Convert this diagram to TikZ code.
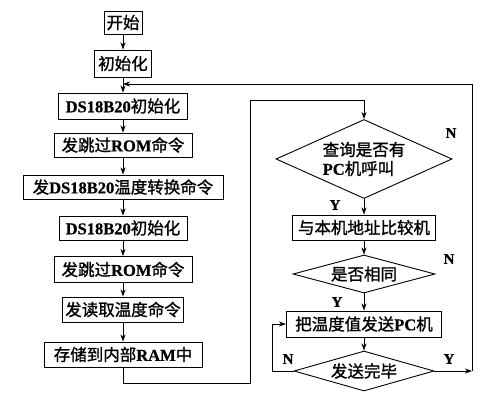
\documentclass[tikz,border=0pt]{standalone}
\usepackage{fontspec}
\setmainfont{Noto Sans CJK SC}[FakeBold=1.2]
\newfontfamily\latfont{Liberation Serif}[FakeBold=0.6]
\newcommand\ltn[1]{{\latfont\bfseries #1}}
\usetikzlibrary{shapes.geometric,arrows.meta}
\begin{document}
\begin{tikzpicture}[x=1pt,y=-1pt,
  box/.style={draw,line width=0.9pt,inner sep=0pt,font=\fontsize{16.5}{19}\selectfont},
  dia/.style={draw,diamond,line width=0.9pt,inner sep=0pt,font=\fontsize{16.5}{19}\selectfont},
  arr/.style={line width=0.8pt,-{Stealth[length=7pt,width=5pt,inset=2pt]}},
  lbl/.style={inner sep=0pt,font=\fontsize{15}{16}\selectfont\latfont\bfseries}]
\useasboundingbox (0,0) rectangle (495,400);
% left column
\node[box,minimum width=38pt,minimum height=23pt] (start) at (123,22.5) {开始};
\node[box,minimum width=57pt,minimum height=27pt] (init) at (123,63.5) {初始化};
\node[box,minimum width=129pt,minimum height=26pt] (ds1) at (123,106) {\ltn{DS18B20}初始化};
\node[box,minimum width=138pt,minimum height=24pt] (rom1) at (123,145) {发跳过\ltn{ROM}命令};
\node[box,minimum width=200pt,minimum height=24pt] (conv) at (123,187) {发\ltn{DS18B20}温度转换命令};
\node[box,minimum width=128pt,minimum height=24pt] (ds2) at (123,228) {\ltn{DS18B20}初始化};
\node[box,minimum width=138pt,minimum height=26pt] (rom2) at (123,269.5) {发跳过\ltn{ROM}命令};
\node[box,minimum width=121pt,minimum height=25pt] (rd) at (123,309.5) {发读取温度命令};
\node[box,minimum width=158pt,minimum height=25pt] (store) at (123,354.5) {存储到内部\ltn{RAM}中};
% right column
\node[dia,aspect=2.2,minimum width=176pt,minimum height=79pt,align=left] (q) at (364,159) {查询是否有\\\ltn{PC}机呼叫};
\node[box,minimum width=143pt,minimum height=25pt] (cmp) at (364,227.5) {与本机地址比较机};
\node[dia,aspect=3.5,minimum width=142pt,minimum height=38pt] (same) at (364,274) {是否相同};
\node[box,minimum width=155pt,minimum height=26pt] (send) at (364,324) {把温度值发送\ltn{PC}机};
\node[dia,aspect=3.5,minimum width=140pt,minimum height=40pt] (done) at (364,371) {发送完毕};
% labels
\node[lbl] (n1) at (451,133) {N};
\node[lbl] (n2) at (449,259) {N};
\node[lbl] (y1) at (335,205) {Y};
\node[lbl] (y2) at (337,302) {Y};
\node[lbl] (n3) at (288,359) {N};
\node[lbl] (y3) at (449,359) {Y};
% coordinates
\coordinate (R1) at (472,371);
\coordinate (R2) at (472,84);
\coordinate (J1) at (123,84);
\coordinate (L1) at (123,383);
\coordinate (L2) at (250,383);
\coordinate (L3) at (250,100);
\coordinate (L4) at (364,100);
\coordinate (M1) at (272,371);
\coordinate (M2) at (272,324);
% left arrows
\draw[arr] (start) -- (init);
\draw[arr] (init) -- (ds1);
\draw[arr] (ds1) -- (rom1);
\draw[arr] (rom1) -- (conv);
\draw[arr] (conv) -- (ds2);
\draw[arr] (ds2) -- (rom2);
\draw[arr] (rom2) -- (rd);
\draw[arr] (rd) -- (store);
% right arrows
\draw[arr] (q) -- (cmp);
\draw[arr] (cmp) -- (same);
\draw[arr] (same) -- (send);
\draw[arr] (send) -- (done);
% loops
\draw[arr] (done.east) -- (R1);
\draw[arr] (R1) -- (R2) -- (J1);
\draw[arr] (store.south) -- (L1) -- (L2) -- (L3) -- (L4) -- (q.north);
\draw[arr] (done.west) -- (M1) -- (M2) -- (send.west);
\end{tikzpicture}
\end{document}
